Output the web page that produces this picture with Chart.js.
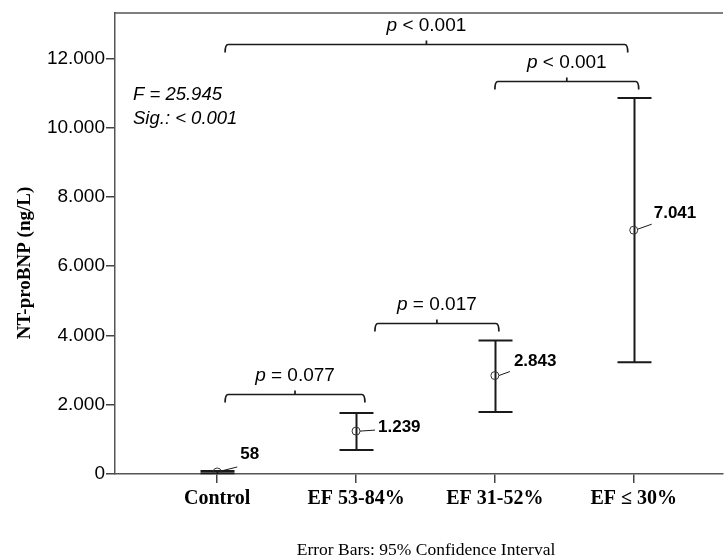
<!DOCTYPE html>
<html>
<head>
<meta charset="utf-8">
<script src="https://cdn.jsdelivr.net/npm/chart.js@4.4.1/dist/chart.umd.min.js"></script>
<style>
  html, body { margin: 0; padding: 0; background: #fff; }
  #wrap { width: 728px; height: 559px; position: relative; }
</style>
</head>
<body>
<div id="wrap"><canvas id="chart"></canvas></div>
<script>
// NT-proBNP by ejection fraction group, mean with 95% CI
const categories = ['Control', 'EF 53-84%', 'EF 31-52%', 'EF \u2264 30%'];
const means = [58, 1239, 2843, 7041];
const ciLower = [25, 690, 1793, 3230];
const ciUpper = [90, 1764, 3856, 10860];

const yTicks = [0, 2000, 4000, 6000, 8000, 10000, 12000];
const yTickLabels = ['0', '2.000', '4.000', '6.000', '8.000', '10.000', '12.000'];

// pairwise comparisons (x in category units, y in ng/L)
const bracketFrom = [1.057, 2.136, 3.0, 1.057];
const bracketTo = [2.064, 3.029, 4.036, 3.957];
const bracketY = [2300, 4370, 11340, 12430];
const bracketOp = ['=', '=', '<', '<'];
const bracketP = ['0.077', '0.017', '0.001', '0.001'];

const statLines = ['F = 25.945', 'Sig.: < 0.001'];

// label placement relative to the mean marker (px)
const LABEL_OFFSETS = [
  { lx1: 4, ly1: -1, lx2: 20, ly2: -5, tx: 23, ty: -18 },
  { lx1: 4, ly1: 0, lx2: 19, ly2: -1, tx: 22, ty: -4 },
  { lx1: 4, ly1: 0, lx2: 15, ly2: -4, tx: 19, ty: -14 },
  { lx1: 4, ly1: -1, lx2: 18, ly2: -6, tx: 20, ty: -17 }
];

const INK = '#1a1a1a';
const SANS = "'Liberation Sans', Arial, sans-serif";
const SERIF = "'Liberation Serif', 'Times New Roman', serif";

function fmtDot(n) {
  if (n < 1000) return String(n);
  return Math.floor(n / 1000) + '.' + String(n % 1000).padStart(3, '0');
}

const annotate = {
  id: 'annotate',
  beforeDatasetsDraw(chart) {
    const { ctx, chartArea: a, scales: { x, y } } = chart;
    ctx.save();
    // top frame line
    ctx.strokeStyle = '#555';
    ctx.lineWidth = 1.5;
    ctx.beginPath();
    ctx.moveTo(a.left, a.top + 0.5);
    ctx.lineTo(a.right, a.top + 0.5);
    ctx.stroke();

    // error bars
    ctx.strokeStyle = INK;
    ctx.lineWidth = 2;
    const capHalf = 17;
    means.forEach((m, i) => {
      const px = Math.round(x.getPixelForValue(i + 1)) + 0.5;
      const yl = y.getPixelForValue(ciLower[i]);
      const yu = y.getPixelForValue(ciUpper[i]);
      ctx.beginPath();
      ctx.moveTo(px, yl); ctx.lineTo(px, yu);
      ctx.moveTo(px - capHalf, yl); ctx.lineTo(px + capHalf, yl);
      ctx.moveTo(px - capHalf, yu); ctx.lineTo(px + capHalf, yu);
      ctx.stroke();
    });
    ctx.restore();
  },
  afterDatasetsDraw(chart) {
    const { ctx, chartArea: a, scales: { x, y } } = chart;
    ctx.save();
    ctx.fillStyle = '#000';
    ctx.strokeStyle = INK;

    // value labels with leader lines
    ctx.lineWidth = 1;
    ctx.font = 'bold 17px ' + SANS;
    ctx.textAlign = 'left';
    ctx.textBaseline = 'middle';
    means.forEach((m, i) => {
      const px = x.getPixelForValue(i + 1);
      const py = y.getPixelForValue(m);
      const o = LABEL_OFFSETS[i];
      ctx.beginPath();
      ctx.moveTo(px + o.lx1, py + o.ly1);
      ctx.lineTo(px + o.lx2, py + o.ly2);
      ctx.stroke();
      ctx.fillText(fmtDot(m), px + o.tx, py + o.ty);
    });

    // significance brackets
    ctx.lineWidth = 1.7;
    const fontP = 'italic 19px ' + SANS;
    const fontR = '19px ' + SANS;
    bracketY.forEach((bv, i) => {
      const x1 = x.getPixelForValue(bracketFrom[i]);
      const x2 = x.getPixelForValue(bracketTo[i]);
      const by = Math.round(y.getPixelForValue(bv)) + 0.5;
      const xm = (x1 + x2) / 2;
      ctx.beginPath();
      ctx.moveTo(x1, by + 8);
      ctx.quadraticCurveTo(x1, by, x1 + 3, by);
      ctx.lineTo(x2 - 3, by);
      ctx.quadraticCurveTo(x2, by, x2, by + 8);
      ctx.moveTo(xm, by);
      ctx.lineTo(xm, by - 4);
      ctx.stroke();

      const rest = ' ' + bracketOp[i] + ' ' + bracketP[i];
      ctx.font = fontP;
      const wp = ctx.measureText('p').width;
      ctx.font = fontR;
      const wr = ctx.measureText(rest).width;
      const tx = xm - (wp + wr) / 2;
      const ty = by - 19;
      ctx.textAlign = 'left';
      ctx.font = fontP;
      ctx.fillText('p', tx, ty);
      ctx.font = fontR;
      ctx.fillText(rest, tx + wp, ty);
    });

    // F statistic
    ctx.font = 'italic 18.5px ' + SANS;
    ctx.textAlign = 'left';
    statLines.forEach((s, i) => ctx.fillText(s, a.left + 18, a.top + 82 + i * 24));

    // y axis title
    ctx.save();
    ctx.translate(25, 263);
    ctx.rotate(-Math.PI / 2);
    ctx.font = 'bold 19px ' + SERIF;
    ctx.textAlign = 'center';
    ctx.fillText('NT-proBNP (ng/L)', 0, 0);
    ctx.restore();

    // footnote
    ctx.font = '17.5px ' + SERIF;
    ctx.textAlign = 'center';
    ctx.fillText('Error Bars: 95% Confidence Interval', 426, 550);
    ctx.restore();
  }
};

new Chart(document.getElementById('chart'), {
  type: 'scatter',
  data: {
    datasets: [{
      data: means.map((m, i) => ({ x: i + 1, y: m })),
      pointStyle: 'circle',
      pointRadius: 4,
      pointHoverRadius: 4,
      borderColor: '#333',
      backgroundColor: 'rgba(0,0,0,0)',
      borderWidth: 1
    }]
  },
  options: {
    responsive: true,
    maintainAspectRatio: false,
    animation: false,
    layout: { padding: { top: 10, right: 0, bottom: 0, left: 0 } },
    plugins: {
      legend: { display: false },
      tooltip: { enabled: false }
    },
    scales: {
      x: {
        type: 'linear',
        min: 0.264,
        max: 4.643,
        afterBuildTicks: (s) => { s.ticks = categories.map((_, i) => ({ value: i + 1 })); },
        afterFit: (s) => { s.height = 85; },
        ticks: {
          color: '#000',
          padding: 4,
          maxRotation: 0,
          autoSkip: false,
          font: { family: SERIF, size: 20, weight: 'bold' },
          callback: (v) => categories[v - 1]
        },
        grid: { display: true, drawOnChartArea: false, drawTicks: true, tickLength: 9, color: '#444', lineWidth: 1.5 },
        border: { display: true, color: '#555', width: 1.5 }
      },
      y: {
        min: 0,
        max: 13330,
        afterBuildTicks: (s) => { s.ticks = yTicks.map(v => ({ value: v })); },
        afterFit: (s) => { s.width = 115; },
        ticks: {
          color: '#000',
          padding: 1,
          font: { family: SANS, size: 19 },
          callback: (v, i) => yTickLabels[i]
        },
        grid: { display: true, drawOnChartArea: false, drawTicks: true, tickLength: 9, color: '#444', lineWidth: 1.5 },
        border: { display: true, color: '#555', width: 1.5 }
      }
    }
  },
  plugins: [annotate]
});
</script>
</body>
</html>
